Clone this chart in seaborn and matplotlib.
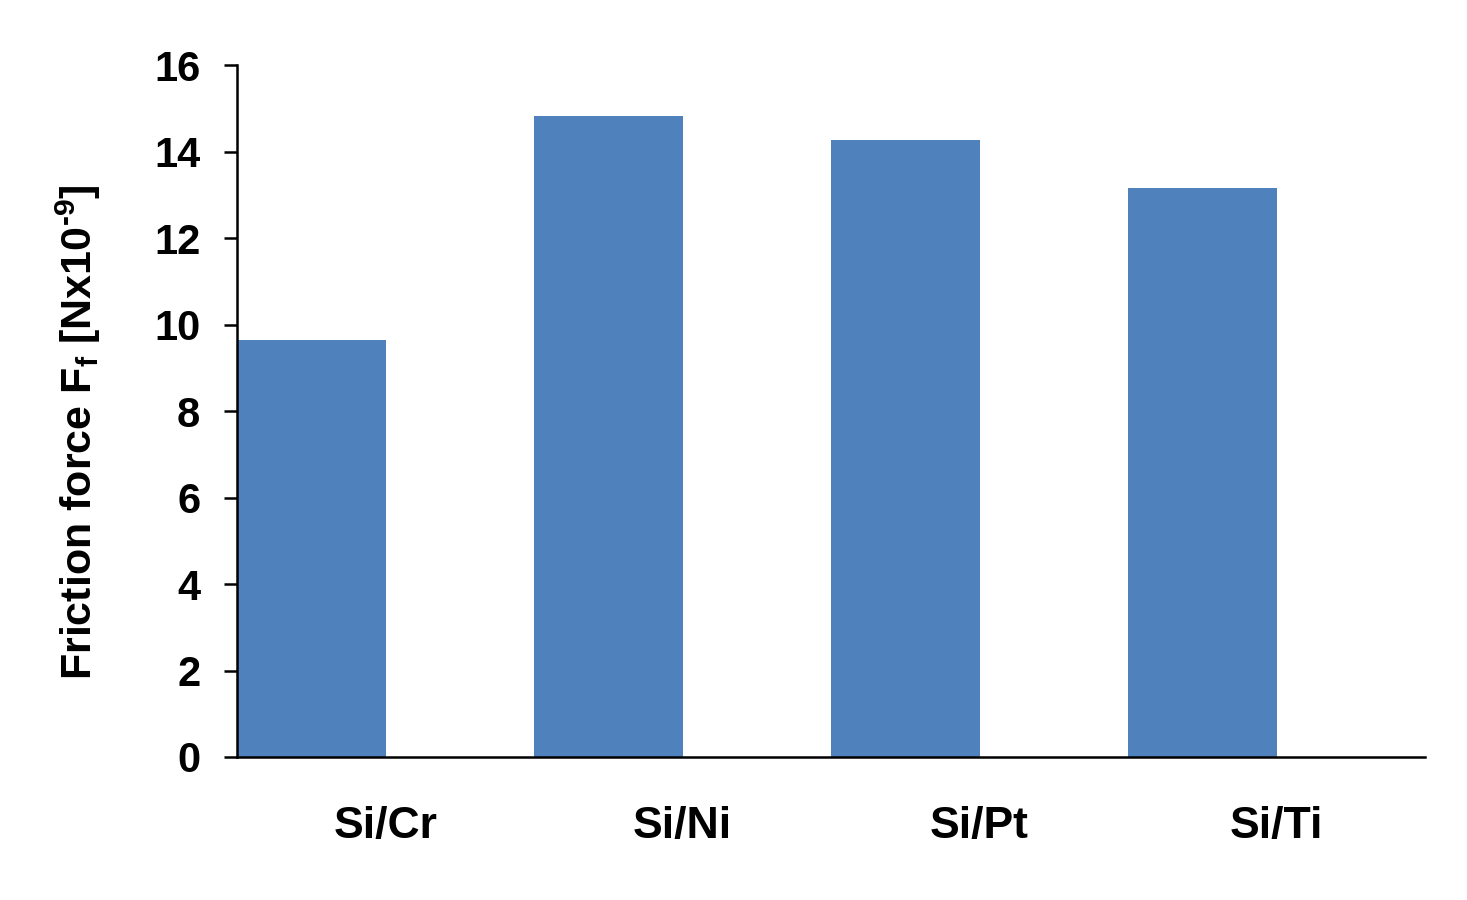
import numpy as np
import pandas as pd
import matplotlib
matplotlib.use("Agg")
from matplotlib import pyplot as plt
import seaborn as sns

# values
materials = ["Si/Cr", "Si/Ni", "Si/Pt", "Si/Ti"]
friction = [9.64, 14.82, 14.27, 13.16]
yticks = [0, 2, 4, 6, 8, 10, 12, 14, 16]

BAR_COLOR = "#4F81BD"

sns.set_style("white")
plt.rcParams["font.family"] = ["Liberation Sans", "DejaVu Sans"]
plt.rcParams["font.weight"] = "bold"
plt.rcParams["text.color"] = "black"
plt.rcParams["axes.labelcolor"] = "black"
plt.rcParams["xtick.color"] = "black"
plt.rcParams["ytick.color"] = "black"
plt.rcParams["mathtext.fontset"] = "custom"
plt.rcParams["mathtext.rm"] = "Liberation Sans:bold"
plt.rcParams["mathtext.it"] = "Liberation Sans:bold"
plt.rcParams["mathtext.bf"] = "Liberation Sans:bold"
plt.rcParams["mathtext.default"] = "regular"

# Excel-style clustered chart: a second (empty) series keeps the bar in the
# left half of each category slot
df = pd.DataFrame({"material": materials, "friction": friction, "series": "A"})

fig = plt.figure(figsize=(14.67, 9), dpi=100)
ax = fig.add_axes([237 / 1467, 1 - 757 / 900, 1188 / 1467, 692 / 900])

sns.barplot(data=df, x="material", y="friction", hue="series",
            hue_order=["A", "B"], palette={"A": BAR_COLOR, "B": BAR_COLOR},
            width=1.0, gap=0, dodge=True, legend=False, ax=ax,
            saturation=1, edgecolor="none", linewidth=0)

ax.set_xlim(-0.5, len(materials) - 0.5)
ax.set_ylim(0, 16)
ax.set_yticks(yticks)
ax.set_yticklabels([str(t) for t in yticks], fontsize=30, fontweight="bold")
ax.set_xticks(range(len(materials)))
ax.set_xticklabels(materials, fontsize=32, fontweight="bold")

ax.tick_params(axis="x", length=0, pad=35.5)
ax.tick_params(axis="y", direction="out", length=9.5, width=1.8, pad=17, left=True)

for side in ["top", "right"]:
    ax.spines[side].set_visible(False)
for side in ["left", "bottom"]:
    ax.spines[side].set_linewidth(1.8)
    ax.spines[side].set_color("black")

ax.set_xlabel("")
ax.set_ylabel(r"Friction force F$_{f}$ [Nx10$^{\text{-9}}$]", fontsize=31, fontweight="bold")
ax.yaxis.set_label_coords(-0.113, 0.47)

fig.savefig("out.png", dpi=100)
